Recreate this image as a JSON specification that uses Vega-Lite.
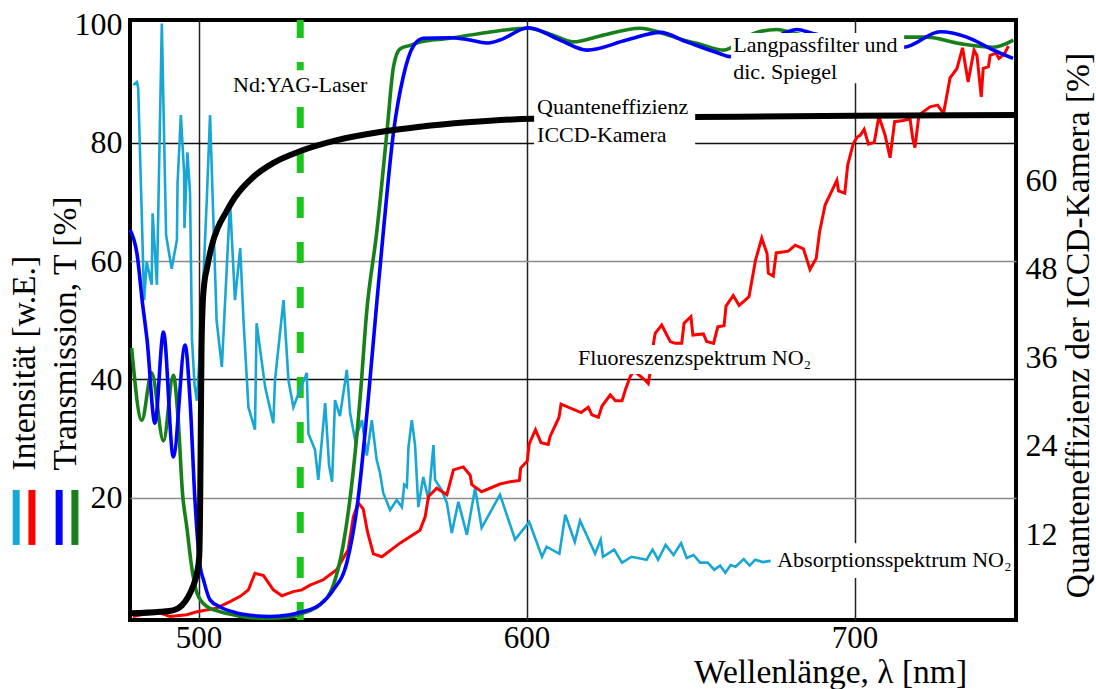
{
  "$schema": "https://vega.github.io/schema/vega-lite/v6.json",
  "width": 886,
  "height": 600,
  "autosize": {"type": "none"},
  "padding": {"left": 130, "top": 20, "right": 80, "bottom": 69},
  "background": "white",
  "config": {
    "view": {"stroke": "black", "strokeWidth": 4},
    "axis": {
      "labelFont": "Liberation Serif", "titleFont": "Liberation Serif",
      "labelColor": "black", "titleColor": "black", "titleFontWeight": "normal",
      "labelFontSize": 32, "titleFontSize": 33.5, "ticks": false, "domain": false
    },
    "text": {"font": "Liberation Serif"}
  },
  "datasets": {
    "laser": [{"nm": 531}],
    "absorption": [
      {"nm":480.1,"v":89.8},{"nm":481.2,"v":90.3},{"nm":481.6,"v":89.3},{"nm":482.7,"v":67.5},{"nm":483.4,"v":53.4},{"nm":484.2,"v":59.9},{"nm":485.7,"v":56.0},{"nm":486.0,"v":68.1},{"nm":487.3,"v":56.0},{"nm":488.8,"v":100.2},{"nm":490.1,"v":64.4},{"nm":491.8,"v":58.7},{"nm":493.4,"v":63.6},{"nm":493.6,"v":73.2},{"nm":494.6,"v":84.7},{"nm":495.6,"v":74.9},{"nm":495.7,"v":65.6},{"nm":496.6,"v":78.4},{"nm":497.4,"v":71.5},{"nm":498.0,"v":46.7},{"nm":498.8,"v":38.9},{"nm":499.5,"v":36.4},{"nm":500.8,"v":48.4},{"nm":502.5,"v":70.3},{"nm":503.5,"v":84.7},{"nm":505.5,"v":50.0},{"nm":507.1,"v":42.1},{"nm":509.6,"v":70.0},{"nm":511.1,"v":53.4},{"nm":512.7,"v":62.2},{"nm":513.7,"v":50.0},{"nm":515.2,"v":35.3},{"nm":517.2,"v":31.5},{"nm":517.7,"v":49.5},{"nm":520.3,"v":38.7},{"nm":522.8,"v":32.6},{"nm":523.3,"v":39.9},{"nm":525.9,"v":53.4},{"nm":527.4,"v":39.9},{"nm":528.9,"v":35.3},{"nm":530.9,"v":38.2},{"nm":533.0,"v":41.1},{"nm":533.5,"v":30.8},{"nm":535.5,"v":28.1},{"nm":536.5,"v":23.0},{"nm":538.6,"v":36.0},{"nm":539.8,"v":25.4},{"nm":540.7,"v":22.7},{"nm":541.6,"v":36.5},{"nm":543.1,"v":33.8},{"nm":545.2,"v":41.6},{"nm":546.2,"v":34.3},{"nm":547.7,"v":29.8},{"nm":549.8,"v":33.1},{"nm":551.3,"v":27.1},{"nm":552.8,"v":33.1},{"nm":554.3,"v":26.4},{"nm":555.3,"v":24.2},{"nm":556.3,"v":20.8},{"nm":558.4,"v":17.9},{"nm":560.4,"v":19.6},{"nm":562.0,"v":18.4},{"nm":562.7,"v":22.2},{"nm":563.5,"v":21.8},{"nm":564.0,"v":28.6},{"nm":565.0,"v":33.1},{"nm":566.0,"v":28.9},{"nm":567.0,"v":18.4},{"nm":568.5,"v":23.5},{"nm":570.1,"v":19.6},{"nm":571.6,"v":28.9},{"nm":572.1,"v":23.0},{"nm":574.1,"v":21.3},{"nm":575.7,"v":19.1},{"nm":577.2,"v":14.0},{"nm":579.2,"v":19.3},{"nm":581.8,"v":13.7},{"nm":584.3,"v":21.6},{"nm":586.3,"v":14.9},{"nm":591.9,"v":20.5},{"nm":596.5,"v":12.9},{"nm":600.8,"v":15.9},{"nm":604.7,"v":10.0},{"nm":606.1,"v":11.7},{"nm":610.0,"v":10.5},{"nm":611.8,"v":17.1},{"nm":614.7,"v":12.5},{"nm":616.3,"v":16.1},{"nm":620.9,"v":10.5},{"nm":622.6,"v":12.9},{"nm":623.3,"v":10.0},{"nm":626.7,"v":11.2},{"nm":629.1,"v":9.0},{"nm":632.0,"v":10.0},{"nm":636.6,"v":9.5},{"nm":638.4,"v":11.2},{"nm":640.1,"v":9.5},{"nm":642.4,"v":12.0},{"nm":644.8,"v":10.3},{"nm":647.1,"v":12.3},{"nm":648.8,"v":9.8},{"nm":650.9,"v":10.3},{"nm":652.9,"v":9.0},{"nm":655.2,"v":9.0},{"nm":657.2,"v":7.8},{"nm":659.0,"v":8.5},{"nm":660.6,"v":7.3},{"nm":662.2,"v":8.6},{"nm":663.7,"v":8.3},{"nm":666.2,"v":9.6},{"nm":668.0,"v":8.5},{"nm":669.7,"v":9.5},{"nm":672.0,"v":9.1},{"nm":674.4,"v":9.3}
    ],
    "fluorescence": [
      {"nm":480.0,"v":-0.1},{"nm":483.7,"v":0.3},{"nm":487.3,"v":0.7},{"nm":491.3,"v":-0.1},{"nm":496.4,"v":0.2},{"nm":499.5,"v":0.7},{"nm":505.5,"v":1.3},{"nm":509.6,"v":2.4},{"nm":512.7,"v":3.3},{"nm":515.2,"v":4.4},{"nm":517.2,"v":7.2},{"nm":519.8,"v":6.8},{"nm":522.8,"v":4.4},{"nm":525.4,"v":3.4},{"nm":528.9,"v":4.1},{"nm":531.5,"v":4.4},{"nm":534.0,"v":5.2},{"nm":538.0,"v":6.1},{"nm":542.1,"v":7.8},{"nm":545.6,"v":11.2},{"nm":547.2,"v":16.8},{"nm":548.7,"v":19.1},{"nm":550.2,"v":18.1},{"nm":551.5,"v":14.2},{"nm":553.3,"v":10.5},{"nm":555.9,"v":10.0},{"nm":561.4,"v":12.3},{"nm":567.5,"v":14.5},{"nm":569.1,"v":16.8},{"nm":570.1,"v":20.2},{"nm":572.6,"v":21.6},{"nm":575.7,"v":20.5},{"nm":577.7,"v":24.7},{"nm":580.7,"v":25.2},{"nm":582.8,"v":23.8},{"nm":583.3,"v":22.2},{"nm":586.3,"v":21.0},{"nm":591.9,"v":22.3},{"nm":595.0,"v":22.7},{"nm":597.8,"v":22.9},{"nm":598.2,"v":25.0},{"nm":600.2,"v":26.2},{"nm":600.8,"v":29.1},{"nm":602.7,"v":31.5},{"nm":604.4,"v":29.3},{"nm":606.6,"v":29.0},{"nm":607.2,"v":30.4},{"nm":609.9,"v":33.6},{"nm":610.5,"v":35.8},{"nm":616.6,"v":34.4},{"nm":618.8,"v":35.3},{"nm":619.9,"v":34.0},{"nm":621.9,"v":33.6},{"nm":623.0,"v":35.5},{"nm":625.5,"v":37.4},{"nm":627.1,"v":36.4},{"nm":629.1,"v":36.4},{"nm":630.2,"v":38.4},{"nm":631.6,"v":40.5},{"nm":632.6,"v":41.3},{"nm":633.7,"v":41.0},{"nm":636.1,"v":39.9},{"nm":637.1,"v":39.3},{"nm":637.7,"v":41.3},{"nm":638.7,"v":46.1},{"nm":639.2,"v":47.8},{"nm":641.2,"v":49.2},{"nm":643.8,"v":46.4},{"nm":645.3,"v":46.1},{"nm":647.3,"v":46.1},{"nm":648.0,"v":49.5},{"nm":650.1,"v":50.6},{"nm":650.7,"v":47.5},{"nm":653.9,"v":47.7},{"nm":654.9,"v":46.4},{"nm":657.0,"v":46.1},{"nm":658.3,"v":48.9},{"nm":660.2,"v":49.1},{"nm":660.8,"v":52.4},{"nm":663.0,"v":54.2},{"nm":664.8,"v":52.5},{"nm":667.8,"v":54.0},{"nm":669.8,"v":60.2},{"nm":671.7,"v":63.9},{"nm":673.3,"v":61.3},{"nm":673.7,"v":58.0},{"nm":675.2,"v":57.5},{"nm":676.1,"v":61.4},{"nm":679.8,"v":61.7},{"nm":681.9,"v":62.7},{"nm":684.4,"v":62.1},{"nm":686.4,"v":58.6},{"nm":688.3,"v":60.5},{"nm":689.3,"v":64.9},{"nm":691.0,"v":69.5},{"nm":694.6,"v":73.7},{"nm":695.1,"v":71.9},{"nm":697.0,"v":71.5},{"nm":697.9,"v":76.3},{"nm":699.6,"v":79.9},{"nm":700.8,"v":81.0},{"nm":701.7,"v":81.3},{"nm":702.9,"v":82.3},{"nm":704.2,"v":79.8},{"nm":706.0,"v":80.1},{"nm":707.4,"v":84.5},{"nm":709.3,"v":81.3},{"nm":710.8,"v":77.5},{"nm":712.2,"v":83.6},{"nm":714.9,"v":83.8},{"nm":716.9,"v":84.1},{"nm":717.7,"v":80.8},{"nm":718.4,"v":79.2},{"nm":719.6,"v":84.7},{"nm":721.0,"v":85.3},{"nm":723.0,"v":86.1},{"nm":725.3,"v":86.4},{"nm":727.1,"v":85.0},{"nm":729.1,"v":91.0},{"nm":731.2,"v":92.6},{"nm":732.9,"v":96.1},{"nm":734.6,"v":90.3},{"nm":736.4,"v":95.7},{"nm":737.3,"v":94.8},{"nm":738.6,"v":87.8},{"nm":739.2,"v":92.6},{"nm":740.8,"v":92.9},{"nm":741.3,"v":94.8},{"nm":743.1,"v":95.2},{"nm":744.0,"v":94.3},{"nm":745.6,"v":95.0},{"nm":746.9,"v":96.4}
    ],
    "lp_green": [
      {"nm":479.6,"v":45.3},{"nm":482.7,"v":33.1},{"nm":485.7,"v":41.1},{"nm":489.3,"v":29.6},{"nm":492.3,"v":40.7},{"nm":493.8,"v":33.1},{"nm":495.1,"v":20.8},{"nm":496.4,"v":15.1},{"nm":497.9,"v":8.3},{"nm":499.5,"v":3.9},{"nm":502.5,"v":1.6},{"nm":506.6,"v":0.7},{"nm":510.5,"v":0.2},{"nm":515.7,"v":-0.3},{"nm":521.8,"v":-0.4},{"nm":527.9,"v":-0.2},{"nm":530.9,"v":0.3},{"nm":534.0,"v":0.9},{"nm":537.0,"v":1.9},{"nm":541.1,"v":5.2},{"nm":544.1,"v":12.0},{"nm":547.1,"v":24.2},{"nm":549.2,"v":36.5},{"nm":551.3,"v":51.7},{"nm":554.3,"v":64.8},{"nm":557.4,"v":81.7},{"nm":559.4,"v":92.8},{"nm":561.4,"v":95.9},{"nm":564.5,"v":96.5},{"nm":567.0,"v":97.0},{"nm":576.7,"v":97.7},{"nm":587.9,"v":98.7},{"nm":600.5,"v":99.4},{"nm":607.2,"v":98.4},{"nm":614.3,"v":97.1},{"nm":622.4,"v":98.1},{"nm":634.6,"v":99.4},{"nm":640.7,"v":98.7},{"nm":647.8,"v":97.4},{"nm":652.9,"v":96.7},{"nm":660.0,"v":95.7},{"nm":662.6,"v":96.2},{"nm":669.1,"v":98.5},{"nm":676.3,"v":99.2},{"nm":681.3,"v":98.6},{"nm":689.5,"v":97.7},{"nm":701.7,"v":97.4},{"nm":714.9,"v":97.9},{"nm":722.0,"v":97.9},{"nm":732.2,"v":96.8},{"nm":742.3,"v":96.2},{"nm":748.4,"v":97.4}
    ],
    "lp_blue": [
      {"nm":479.1,"v":65.3},{"nm":481.3,"v":61.0},{"nm":482.8,"v":53.4},{"nm":484.3,"v":46.7},{"nm":486.7,"v":32.6},{"nm":489.3,"v":48.0},{"nm":492.3,"v":26.9},{"nm":495.9,"v":45.8},{"nm":497.4,"v":36.5},{"nm":498.9,"v":19.6},{"nm":500.5,"v":8.3},{"nm":501.5,"v":6.1},{"nm":503.5,"v":2.7},{"nm":506.6,"v":1.5},{"nm":511.6,"v":0.5},{"nm":515.7,"v":0.1},{"nm":521.8,"v":-0.1},{"nm":527.9,"v":0.2},{"nm":530.9,"v":0.6},{"nm":537.0,"v":1.9},{"nm":541.1,"v":4.4},{"nm":545.2,"v":9.0},{"nm":548.6,"v":19.6},{"nm":551.7,"v":36.5},{"nm":554.4,"v":53.4},{"nm":556.3,"v":64.8},{"nm":559.4,"v":81.7},{"nm":562.4,"v":91.2},{"nm":565.5,"v":96.4},{"nm":568.5,"v":97.7},{"nm":576.7,"v":97.8},{"nm":581.8,"v":97.5},{"nm":587.9,"v":96.9},{"nm":591.9,"v":97.4},{"nm":600.5,"v":99.5},{"nm":610.2,"v":97.4},{"nm":618.4,"v":95.7},{"nm":630.5,"v":97.4},{"nm":640.7,"v":98.7},{"nm":648.8,"v":97.1},{"nm":659.0,"v":95.1},{"nm":662.0,"v":94.6},{"nm":671.2,"v":96.5},{"nm":678.2,"v":98.5},{"nm":682.4,"v":99.2},{"nm":687.3,"v":98.5},{"nm":698.6,"v":97.4},{"nm":707.8,"v":96.5},{"nm":714.9,"v":96.2},{"nm":726.1,"v":98.8},{"nm":734.2,"v":97.9},{"nm":742.3,"v":95.7},{"nm":748.3,"v":94.3}
    ],
    "qe": [
      {"nm":479.1,"qe":1.24},{"nm":488.3,"qe":1.45},{"nm":492.2,"qe":1.65},{"nm":495.0,"qe":2.35},{"nm":496.8,"qe":3.46},{"nm":498.3,"qe":4.87},{"nm":499.5,"qe":6.67},{"nm":500.2,"qe":8.89},{"nm":500.5,"qe":16.63},{"nm":500.7,"qe":27.49},{"nm":500.9,"qe":36.95},{"nm":501.2,"qe":42.38},{"nm":501.7,"qe":45.8},{"nm":502.6,"qe":48.11},{"nm":504.1,"qe":51.23},{"nm":505.9,"qe":53.54},{"nm":508.4,"qe":55.65},{"nm":511.1,"qe":57.66},{"nm":516.6,"qe":60.38},{"nm":522.7,"qe":62.29},{"nm":530.9,"qe":63.9},{"nm":542.2,"qe":65.41},{"nm":555.3,"qe":66.51},{"nm":567.5,"qe":67.22},{"nm":581.9,"qe":67.82},{"nm":602.0,"qe":68.32},{"nm":650.8,"qe":68.53},{"nm":700.2,"qe":68.73},{"nm":749.2,"qe":68.83}
    ],
    "boxes": [
      {"nm":509.0,"nm2":552.9,"v":87.2,"v2":92.3},
      {"nm":602.3,"nm2":651.4,"v":79.1,"v2":88.1},
      {"nm":662.3,"nm2":715.1,"v":90.1,"v2":98.6},
      {"nm":614.8,"nm2":690.1,"v":40.9,"v2":45.8},
      {"nm":675.5,"nm2":748.6,"v":6.4,"v2":12.3}
    ],
    "labels": [
      {"label":"Nd:YAG-Laser","nm":510.5,"v":89.8},
      {"label":"Quanteneffizienz","nm":603.2,"v":86.1},
      {"label":"ICCD-Kamera","nm":603.2,"v":81.3},
      {"label":"Langpassfilter und","nm":663.0,"v":96.5},
      {"label":"dic. Spiegel","nm":663.0,"v":92.0},
      {"label":"Fluoreszenzspektrum NO₂","nm":615.7,"v":43.6},
      {"label":"Absorptionsspektrum NO₂","nm":676.4,"v":9.5}
    ],
    "swatches": [
      {"series":"Absorption","nm":444.4,"v":21.3,"v2":12.0},
      {"series":"Fluoreszenz","nm":449.2,"v":21.3,"v2":12.0},
      {"series":"Transmission blau","nm":457.5,"v":21.3,"v2":12.0},
      {"series":"Transmission grün","nm":462.3,"v":21.3,"v2":12.0}
    ]
  },
  "encoding": {
    "x": {
      "field": "nm", "type": "quantitative",
      "scale": {"domain": [479.1, 749.2], "nice": false, "zero": false},
      "axis": {
        "values": [500, 600, 700], "grid": true, "gridColor": "#222", "gridWidth": 1.5,
        "labelPadding": 3, "labelFontSize": 31, "labelFlush": false,
        "title": "Wellenlänge, λ [nm]", "titleX": 700, "titleY": 62,
        "titleAlign": "center", "titleBaseline": "alphabetic"
      }
    }
  },
  "layer": [
    {
      "data": {"name": "laser"},
      "mark": {"type": "rule", "color": "#1ec41e", "strokeWidth": 7, "strokeDash": [21, 24], "strokeDashOffset": 3},
      "encoding": {}
    },
    {
      "encoding": {
        "y": {
          "field": "v", "type": "quantitative",
          "scale": {"domain": [-0.7, 100.8], "nice": false, "zero": false},
          "axis": {
            "values": [20, 40, 60, 80, 100], "grid": true,
            "gridColor": {"condition": {"test": "datum.value === 40 || datum.value === 80", "value": "#111"}, "value": "#8a8a8a"},
            "gridOpacity": {"condition": {"test": "datum.value === 100", "value": 0}, "value": 1},
            "gridWidth": 1.5, "labelPadding": 8,
            "title": ["Intensität [w.E.]", "Transmission, T [%]"],
            "titleAngle": -90, "titleX": -106, "titleY": 450,
            "titleAlign": "left", "titleBaseline": "middle", "titleLineHeight": 41
          }
        }
      },
      "layer": [
        {"data": {"name": "absorption"}, "mark": {"type": "line", "color": "#18a6d4", "strokeWidth": 2.6}},
        {"data": {"name": "fluorescence"}, "mark": {"type": "line", "color": "#ff0000", "strokeWidth": 3}},
        {"data": {"name": "lp_green"}, "mark": {"type": "line", "color": "#17801a", "strokeWidth": 3.6, "interpolate": "monotone"}},
        {"data": {"name": "lp_blue"}, "mark": {"type": "line", "color": "#0000ff", "strokeWidth": 3.6, "interpolate": "monotone"}}
      ]
    },
    {
      "data": {"name": "qe"},
      "mark": {"type": "line", "color": "black", "strokeWidth": 6, "interpolate": "monotone"},
      "encoding": {
        "y": {
          "field": "qe", "type": "quantitative",
          "scale": {"domain": [0.34, 81.7], "nice": false, "zero": false},
          "axis": {
            "orient": "right", "values": [12, 24, 36, 48, 60], "grid": false,
            "labelPadding": 9, "labelAlign": "left",
            "title": "Quanteneffizienz der ICCD-Kamera [%]",
            "titleAngle": -90, "titleX": 62, "titleY": 305,
            "titleAlign": "center", "titleBaseline": "middle"
          }
        }
      }
    },
    {
      "encoding": {
        "y": {
          "field": "v", "type": "quantitative",
          "scale": {"domain": [-0.7, 100.8], "nice": false, "zero": false},
          "axis": null
        }
      },
      "layer": [
        {
          "data": {"name": "boxes"},
          "mark": {"type": "rect", "color": "white", "opacity": 1},
          "encoding": {"x2": {"field": "nm2"}, "y2": {"field": "v2"}}
        },
        {
          "data": {"name": "labels"},
          "mark": {"type": "text", "align": "left", "baseline": "middle", "fontSize": 22, "color": "black", "font": "Liberation Serif"},
          "encoding": {"text": {"field": "label"}}
        },
        {
          "data": {"name": "swatches"},
          "mark": {"type": "rule", "strokeWidth": 7},
          "encoding": {
            "y2": {"field": "v2"},
            "color": {
              "field": "series", "type": "nominal", "legend": null,
              "scale": {
                "domain": ["Absorption", "Fluoreszenz", "Transmission blau", "Transmission grün"],
                "range": ["#18a6d4", "#ff0000", "#0000ff", "#17801a"]
              }
            }
          }
        }
      ]
    }
  ],
  "resolve": {"scale": {"y": "independent"}, "axis": {"y": "independent"}}
}
